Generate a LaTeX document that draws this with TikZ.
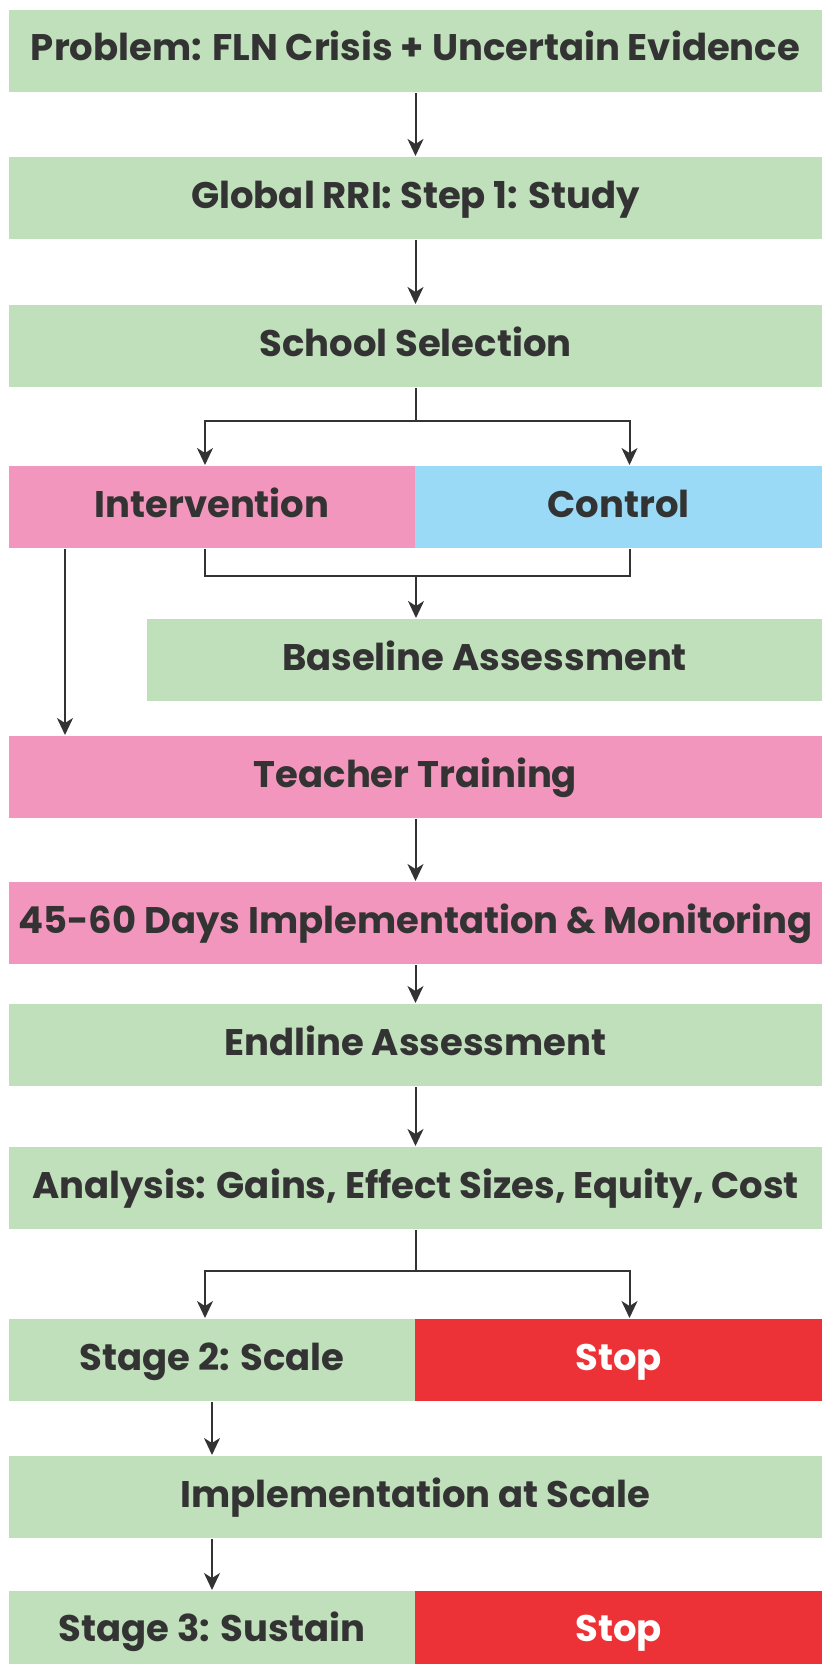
\documentclass[tikz,border=0pt]{standalone}
\usepackage{fontspec}
\setmainfont{Poppins}
\usepackage{tikz}
\usetikzlibrary{positioning, arrows.meta, calc}
\definecolor{boxgreen}{HTML}{C0DFBB}
\definecolor{boxpink}{HTML}{F296BD}
\definecolor{boxblue}{HTML}{9ADAF7}
\definecolor{boxred}{HTML}{EC3237}
\definecolor{inkgray}{HTML}{333333}
\tikzset{
  flow/.style={
	x=1pt, y=-1pt, % page units, y running downwards
	>={Stealth[length=17pt,width=16pt,inset=5pt]}, % filled arrow heads
	line width=2pt, color=inkgray,
  },
  box/.style={rectangle, draw=none, anchor=north west, inner sep=0pt,
	minimum height=82pt, text=inkgray, text height=26pt, text depth=6pt,
	font=\fontsize{37}{44}\selectfont\bfseries}, % one coloured bar
  wide/.style={box, minimum width=813pt},
  half/.style={box, minimum width=406pt},
  greenbox/.style={fill=boxgreen},
  pinkbox/.style={fill=boxpink},
  bluebox/.style={fill=boxblue},
  stopbox/.style={fill=boxred, text=white},
}
\begin{document}
\begin{tikzpicture}[flow]
\useasboundingbox (0,0) rectangle (830,1664);
\node[wide, greenbox] (problem) at (8,9) {Problem: FLN Crisis + Uncertain Evidence};
\node[wide, greenbox] (study) at (8,156) {Global RRI: Step 1: Study};
\node[wide, greenbox] (select) at (8,304) {School Selection};
\node[half, pinkbox] (interv) at (8,465) {Intervention};
\node[half, bluebox, minimum width=407pt] (ctrl) at (414,465) {Control};
\node[box, greenbox, minimum width=675pt] (base) at (146,618) {Baseline Assessment};
\node[wide, pinkbox] (train) at (8,735) {Teacher Training};
\node[wide, pinkbox] (monitor) at (8,881) {45-60 Days Implementation \& Monitoring};
\node[wide, greenbox] (endline) at (8,1003) {Endline Assessment};
\node[wide, greenbox] (analysis) at (8,1146) {Analysis: Gains, Effect Sizes, Equity, Cost};
\node[half, greenbox] (scale) at (8,1318) {Stage 2: Scale};
\node[half, stopbox, minimum width=407pt] (stopa) at (414,1318) {Stop};
\node[wide, greenbox] (atscale) at (8,1455) {Implementation at Scale};
\node[half, greenbox, minimum height=74pt, text depth=-2pt] (sustain) at (8,1590) {Stage 3: Sustain};
\node[half, stopbox, minimum width=407pt, minimum height=74pt, text depth=-2pt] (stopb) at (414,1590) {Stop};

\draw[->] (problem) -- (study);
\draw[->] (study) -- (select);
% split into the two arms
\draw (select.south) -- ++(0,33) coordinate (forka);
\draw[->] (forka) -| ([xshift=-7pt]interv.north);
\draw[->] (forka) -| ([xshift=11pt]ctrl.north);
% both arms join for the baseline
\draw ([xshift=-7pt]interv.south) -- ++(0,27) -| ([xshift=11pt]ctrl.south);
\coordinate (joina) at ($(interv.south east)+(0,27)$);
\draw[->] (joina) -- (joina |- base.north);
\coordinate (ileft) at ([xshift=57pt]interv.south west);
\draw[->] (ileft) -- (ileft |- train.north);
\draw[->] (train) -- (monitor);
\draw[->] (monitor) -- (endline);
\draw[->] (endline) -- (analysis);
% decision after the analysis
\draw (analysis.south) -- ++(0,41) coordinate (forkb);
\draw[->] (forkb) -| ([xshift=-7pt]scale.north);
\draw[->] (forkb) -| ([xshift=11pt]stopa.north);
\draw[->] (scale.south) -- (scale.south |- atscale.north);
\draw[->] (sustain.north |- atscale.south) -- (sustain.north);
\end{tikzpicture}
\end{document}
